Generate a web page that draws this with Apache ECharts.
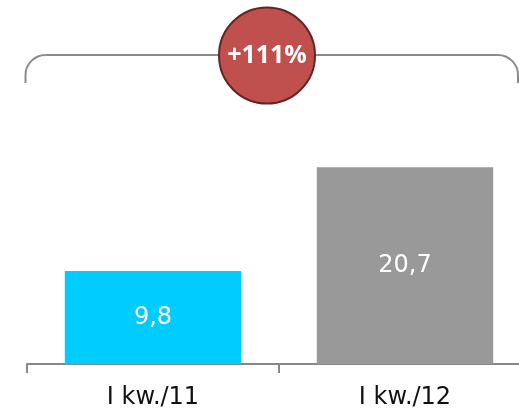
<!DOCTYPE html>
<html>
<head>
<meta charset="utf-8">
<style>
  html, body { margin: 0; padding: 0; background: #ffffff; }
  #chart { width: 519px; height: 412px; }
</style>
<script src="https://cdn.jsdelivr.net/npm/echarts@6/dist/echarts.min.js"></script>
</head>
<body>
<div id="chart"></div>
<script>
var categories = ['I kw./11', 'I kw./12'];
var values = [9.8, 20.7];
var barColors = ['#00CCFF', '#999999'];
var changeLabel = '+111%';

var chart = echarts.init(document.getElementById('chart'), null, { renderer: 'canvas' });

var bracketStyle = { fill: null, stroke: '#8a8a8a', lineWidth: 2 };

var option = {
  animation: false,
  backgroundColor: '#ffffff',
  grid: { left: 27, top: 79, right: -12, bottom: 48, containLabel: false, outerBoundsMode: 'none' },
  xAxis: {
    type: 'category',
    data: categories,
    axisLine: { show: true, lineStyle: { color: '#888888', width: 2 } },
    axisTick: { show: true, length: 9, lineStyle: { color: '#888888', width: 2 } },
    axisLabel: {
      margin: 22,
      color: '#111111',
      fontSize: 24,
      fontFamily: 'DejaVu Sans'
    }
  },
  yAxis: {
    type: 'value',
    min: 0,
    max: 30,
    show: false,
    splitLine: { show: false }
  },
  series: [{
    type: 'bar',
    barCategoryGap: '30%',
    data: values.map(function (v, i) {
      return { value: v, itemStyle: { color: barColors[i] } };
    }),
    label: {
      show: true,
      position: 'inside',
      color: '#ffffff',
      fontSize: 24,
      fontFamily: 'DejaVu Sans',
      formatter: function (p) { return String(p.value).replace('.', ','); }
    }
  }],
  graphic: [
    { type: 'line', shape: { x1: 25.5, y1: 83, x2: 25.5, y2: 75 }, style: bracketStyle, z: 10 },
    { type: 'arc', shape: { cx: 45.5, cy: 75, r: 20, startAngle: Math.PI, endAngle: Math.PI * 1.5, clockwise: true }, style: bracketStyle, z: 10 },
    { type: 'line', shape: { x1: 45.5, y1: 55, x2: 498, y2: 55 }, style: bracketStyle, z: 10 },
    { type: 'arc', shape: { cx: 498, cy: 75, r: 20, startAngle: Math.PI * 1.5, endAngle: Math.PI * 2, clockwise: true }, style: bracketStyle, z: 10 },
    { type: 'line', shape: { x1: 518, y1: 75, x2: 518, y2: 83 }, style: bracketStyle, z: 10 },
    {
      type: 'circle',
      shape: { cx: 267, cy: 55.5, r: 48 },
      style: { fill: '#C0504D', stroke: '#632523', lineWidth: 2 },
      z: 11
    },
    {
      type: 'text',
      x: 267,
      y: 56,
      style: {
        text: changeLabel,
        fill: '#ffffff',
        fontSize: 25,
        fontWeight: 'bold',
        fontFamily: 'Open Sans',
        align: 'center',
        verticalAlign: 'middle'
      },
      z: 12
    }
  ]
};

chart.setOption(option);
</script>
</body>
</html>
